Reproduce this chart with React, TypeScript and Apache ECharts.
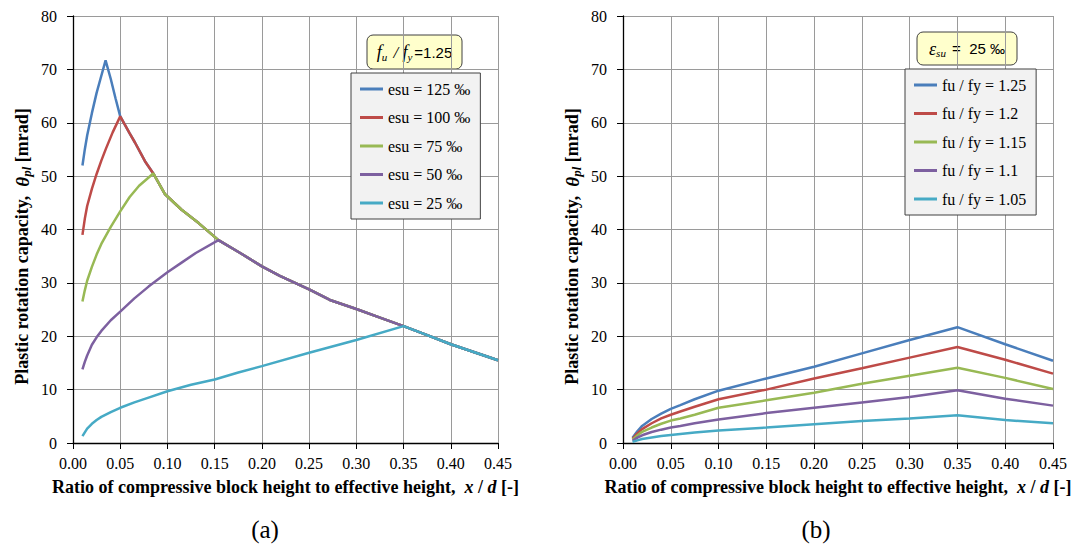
import React, { useEffect, useRef } from "react";
import * as echarts from "echarts";

// ---------- DATA ----------
const xTickValues = [0, 0.05, 0.1, 0.15, 0.2, 0.25, 0.3, 0.35, 0.4, 0.45];
const yTickValues = [0, 10, 20, 30, 40, 50, 60, 70, 80];

const leftNames = ["esu = 125 ‰", "esu = 100 ‰", "esu = 75 ‰", "esu = 50 ‰", "esu = 25 ‰"];
const rightNames = ["fu / fy = 1.25", "fu / fy = 1.2", "fu / fy = 1.15", "fu / fy = 1.1", "fu / fy = 1.05"];

// (a) rising branches [x/d, theta_pl]
const esu125Rise = [[0.01, 52], [0.0125, 55], [0.015, 57.6], [0.02, 61.8], [0.025, 65.6], [0.03, 68.8], [0.0345, 71.7]];
const esu100Rise = [[0.01, 39], [0.0125, 42], [0.015, 44.4], [0.02, 47.6], [0.025, 50.4], [0.03, 52.9], [0.035, 55.2], [0.042, 58.2], [0.05, 61.2]];
const esu75Rise = [[0.01, 26.5], [0.0125, 28.6], [0.015, 30.4], [0.02, 33], [0.025, 35.3], [0.03, 37.3], [0.04, 40.5], [0.05, 43.4], [0.06, 46.1], [0.07, 48.2], [0.085, 50.5]];
const esu50Rise = [[0.01, 13.8], [0.0125, 15.2], [0.015, 16.4], [0.02, 18.4], [0.025, 19.8], [0.03, 21], [0.04, 23], [0.05, 24.6], [0.065, 27.1], [0.08, 29.3], [0.1, 32], [0.115, 33.8], [0.13, 35.6], [0.154, 38]];
const esu25Rise = [[0.01, 1.3], [0.0125, 2], [0.015, 2.7], [0.02, 3.6], [0.025, 4.3], [0.03, 4.9], [0.04, 5.8], [0.05, 6.6], [0.065, 7.6], [0.08, 8.5], [0.1, 9.7], [0.125, 10.9], [0.15, 11.9], [0.175, 13.2], [0.2, 14.4], [0.25, 16.9], [0.3, 19.3], [0.35, 21.9]];
// (a) common descending branch
const envelope = [[0.0345, 71.7], [0.04, 68.2], [0.045, 64.6], [0.05, 61.2], [0.055, 59.6], [0.06, 58], [0.0656, 56.3], [0.0762, 52.8], [0.085, 50.5], [0.0975, 46.6], [0.115, 43.7], [0.133, 41.2], [0.154, 38], [0.177, 35.6], [0.2, 33.1], [0.219, 31.3], [0.25, 28.8], [0.272, 26.8], [0.3, 25.1], [0.325, 23.5], [0.35, 21.9], [0.375, 20.2], [0.4, 18.5], [0.425, 17], [0.45, 15.5]];

// (b)
const rightX = [0.01, 0.015, 0.02, 0.03, 0.04, 0.05, 0.06, 0.075, 0.1, 0.15, 0.2, 0.25, 0.3, 0.35, 0.4, 0.45];
const fy125 = [1.0, 2.2, 3.2, 4.5, 5.5, 6.4, 7.1, 8.2, 9.8, 12.1, 14.3, 16.8, 19.3, 21.7, 18.5, 15.4];
const fy120 = [0.8, 1.8, 2.6, 3.7, 4.6, 5.3, 5.9, 6.8, 8.2, 10.0, 12.1, 14.0, 16.0, 18.0, 15.6, 13.0];
const fy115 = [0.6, 1.4, 2.1, 2.9, 3.6, 4.2, 4.6, 5.3, 6.6, 8.0, 9.4, 11.1, 12.6, 14.1, 12.2, 10.1];
const fy110 = [0.4, 1.0, 1.45, 2.05, 2.5, 2.9, 3.2, 3.7, 4.4, 5.6, 6.6, 7.6, 8.6, 9.9, 8.3, 7.0];
const fy105 = [0.2, 0.5, 0.75, 1.05, 1.3, 1.5, 1.7, 1.95, 2.35, 2.9, 3.5, 4.1, 4.6, 5.2, 4.3, 3.7];

const colors = ["#4A7EBB", "#BE4B48", "#98B954", "#7D60A0", "#46AAC5"];

// ---------- STYLE ----------
const SERIF = "Liberation Serif";
const SANS = "Liberation Sans";

function withEnvelope(rise: number[][]) {
  const peak = rise[rise.length - 1][0];
  return rise.concat(envelope.filter((p) => p[0] > peak + 1e-9));
}

export default function App() {
  const ref = useRef<HTMLDivElement>(null);

  useEffect(() => {
    if (!ref.current) return;
    const chart = echarts.init(ref.current, null, { renderer: "svg" });

    const leftData = [esu125Rise, esu100Rise, esu75Rise, esu50Rise, esu25Rise].map(withEnvelope);
    const rightData = [fy125, fy120, fy115, fy110, fy105].map((vals) => rightX.map((x, i) => [x, vals[i]]));

    const mkX = (gridIndex: number) => ({
      type: "value",
      gridIndex,
      min: 0,
      max: 0.45,
      interval: 0.05,
      axisLine: { show: true, onZero: false, lineStyle: { color: "#000", width: 1.3 } },
      axisTick: { show: true, inside: false, length: 6, lineStyle: { color: "#000" } },
      axisLabel: {
        margin: 12,
        fontFamily: SERIF,
        fontSize: 16,
        color: "#000",
        formatter: (v: number) => v.toFixed(2),
      },
      splitLine: { show: true, lineStyle: { color: "#9a9a9a", width: 1 } },
      name: "{b|Ratio of compressive block height to effective height,  }{bi|x}{b| / }{bi|d}{b| [-]}",
      nameLocation: "middle",
      nameGap: 35,
      nameTextStyle: {
        rich: {
          b: { fontFamily: SERIF, fontSize: 18, fontWeight: "bold", color: "#000" },
          bi: { fontFamily: SERIF, fontSize: 18, fontWeight: "bold", fontStyle: "italic", color: "#000" },
        },
      },
    });

    const mkY = (gridIndex: number) => ({
      type: "value",
      gridIndex,
      min: 0,
      max: 80,
      interval: 10,
      axisLine: { show: true, onZero: false, lineStyle: { color: "#000", width: 1.3 } },
      axisTick: { show: true, inside: false, length: 6, lineStyle: { color: "#000" } },
      axisLabel: { margin: 16, fontFamily: SERIF, fontSize: 16, color: "#000" },
      splitLine: { show: true, lineStyle: { color: "#9a9a9a", width: 1 } },
      name: "{b|Plastic rotation capacity,  }{bi|θ}{sub|pl}{b| [mrad]}",
      nameLocation: "middle",
      nameRotate: 90,
      nameGap: 40,
      nameTextStyle: {
        padding: [0, 34, 0, 0],
        rich: {
          b: { fontFamily: SERIF, fontSize: 18, fontWeight: "bold", color: "#000", lineHeight: 22 },
          bi: { fontFamily: SERIF, fontSize: 19, fontWeight: "bold", fontStyle: "italic", color: "#000", lineHeight: 22 },
          sub: { fontFamily: SERIF, fontSize: 13, fontWeight: "bold", fontStyle: "italic", color: "#000", lineHeight: 12, verticalAlign: "bottom" },
        },
      },
    });

    const mkLegend = (data: string[], left: number, top: number) => ({
      data,
      left,
      top,
      orient: "vertical",
      selectedMode: false,
      backgroundColor: "#f2f2f2",
      borderColor: "#404040",
      borderWidth: 1,
      borderRadius: 0,
      padding: [8, 10, 8, 9],
      itemGap: 12.5,
      icon: "rect",
      itemWidth: 23,
      itemHeight: 3,
      textStyle: { fontFamily: SERIF, fontSize: 16, color: "#000" },
    });

    const mkBox = (x: number, y: number, w: number, h: number, rich: any, text: string) => ({
      type: "group",
      x,
      y,
      children: [
        {
          type: "rect",
          shape: { x: 0, y: 0, width: w, height: h, r: 6 },
          style: { fill: "#ffffcc", stroke: "#404040", lineWidth: 1 },
        },
        {
          type: "text",
          x: w / 2,
          y: h / 2,
          style: { text, rich, align: "center", verticalAlign: "middle" },
        },
      ],
    });

    const richBox = {
      fi: { fontFamily: SERIF, fontSize: 18, fontStyle: "italic", color: "#000", lineHeight: 20 },
      sub: { fontFamily: SERIF, fontSize: 11, fontStyle: "italic", color: "#000", lineHeight: 10, verticalAlign: "bottom", padding: [0, 2, 0, 0] },
      sl: { fontFamily: SERIF, fontSize: 17, fontStyle: "italic", color: "#000", lineHeight: 20 },
      n: { fontFamily: SANS, fontSize: 15, color: "#000", lineHeight: 20 },
    };

    const option: any = {
      animation: false,
      backgroundColor: "#fff",
      color: colors,
      grid: [
        { left: 73, top: 16, width: 425, height: 427 },
        { left: 623, top: 16, width: 430, height: 427 },
      ],
      xAxis: [mkX(0), mkX(1)],
      yAxis: [mkY(0), mkY(1)],
      legend: [mkLegend(leftNames, 351, 73), mkLegend(rightNames, 905, 69)],
      series: [
        ...leftNames.map((name, i) => ({
          name,
          type: "line",
          xAxisIndex: 0,
          yAxisIndex: 0,
          data: leftData[i],
          showSymbol: false,
          symbol: "none",
          lineStyle: { width: 2.5, color: colors[i] },
          itemStyle: { color: colors[i] },
        })),
        ...rightNames.map((name, i) => ({
          name,
          type: "line",
          xAxisIndex: 1,
          yAxisIndex: 1,
          data: rightData[i],
          showSymbol: false,
          symbol: "none",
          lineStyle: { width: 2.5, color: colors[i] },
          itemStyle: { color: colors[i] },
        })),
      ],
      graphic: [
        mkBox(367, 35, 95, 34, richBox, "{fi|f}{sub|u}{sl| / }{fi|f}{sub|y}{n|=1.25}"),
        mkBox(917, 32, 100, 33, richBox, "{fi|ε}{sub|su}{n| =  25 ‰}"),
        {
          type: "text",
          x: 265,
          y: 529,
          style: { text: "(a)", fontFamily: SERIF, fontSize: 25, fill: "#000", align: "center", verticalAlign: "middle" },
        },
        {
          type: "text",
          x: 816,
          y: 529,
          style: { text: "(b)", fontFamily: SERIF, fontSize: 25, fill: "#000", align: "center", verticalAlign: "middle" },
        },
      ],
    };

    chart.setOption(option);
    return () => chart.dispose();
  }, []);

  return (
    <div
      ref={ref}
      style={{ position: "absolute", left: 0, top: 0, width: 1082, height: 544, background: "#fff" }}
    />
  );
}
